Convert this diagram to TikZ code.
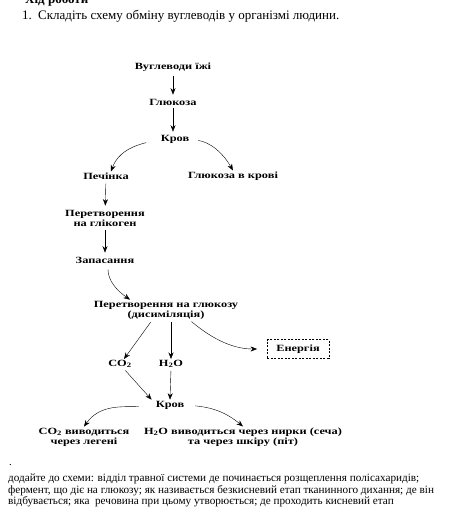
\documentclass[tikz,border=0pt]{standalone}
\usepackage{fontspec}
\setmainfont{Liberation Serif}
\newfontfamily\schemefont[FakeStretch=1.3]{Liberation Serif}
\usetikzlibrary{arrows.meta,positioning}

\begin{document}
\begin{tikzpicture}[x=1pt,y=1pt,->,>={Stealth[length=6.5pt,width=5pt]},thin,
  txt/.style={font=\fontsize{13}{15}\selectfont,inner sep=0pt},
  main node/.style={font=\schemefont\bfseries\fontsize{9.5}{10}\selectfont,align=center,inner sep=1pt},
  energy node/.style={main node,draw,dash pattern=on 2pt off 1.5pt,inner xsep=9pt,inner ysep=5pt}]
\useasboundingbox (0,0) rectangle (448,-523);
% task text
\node[txt,anchor=base west,font=\bfseries\fontsize{13}{15}\selectfont] (title) at (25,-3) {Хід роботи};
\node[txt,anchor=base west] (task) at (22,-19) {\makebox[16pt][l]{1.}Складіть схему обміну вуглеводів у організмі людини.};
% scheme
\node[main node] (food) at (173,-67) {Вуглеводи їжі};
\node[main node] (glu) at (173,-102) {Глюкоза};
\node[main node] (blood) at (175,-139) {Кров};
\node[main node] (liver) at (106,-176) {Печінка};
\node[main node] (bglu) at (233,-176) {Глюкоза в крові};
\node[main node] (glyc) at (105,-218) {Перетворення\\на глікоген};
\node[main node] (store) at (105,-260) {Запасання};
\node[main node] (dissim) at (166,-310) {Перетворення на глюкозу\\(дисиміляція)};
\node[energy node] (energy) at (298,-349) {Енергія};
\node[main node] (co2) at (120,-364) {CO\textsubscript{2}};
\node[main node] (water) at (171,-364) {H\textsubscript{2}O};
\node[main node] (blood2) at (170,-405) {Кров};
\node[main node] (co2out) at (84,-437) {CO\textsubscript{2} виводиться\\через легені};
\node[main node] (h2oout) at (243,-437) {H\textsubscript{2}O виводиться через нирки (сеча)\\та через шкіру (піт)};
\draw[shorten <=3pt,shorten >=3pt] (food) -- (glu);
\draw[shorten <=2pt,shorten >=2pt] (glu.south) -- (glu.south |- blood.north);
\draw[shorten <=14pt] (blood.west) to[out=195,in=70] ([xshift=5pt]liver.north);
\draw[shorten <=8pt] (blood.east) to[out=-10,in=120] (bglu.north);
\draw[shorten <=3pt,shorten >=3pt] (liver) -- (glyc);
\draw[shorten <=3pt,shorten >=3pt] (glyc) -- (store);
\draw[shorten <=5pt] ([xshift=3pt]store.south) to[out=270,in=145] ([xshift=-36pt]dissim.north);
\draw[shorten <=2pt] ([xshift=-14pt]dissim.south) -- ([xshift=4pt]co2.north);
\draw[shorten <=2pt] (water.north |- dissim.south) -- (water.north);
\draw[shorten <=2pt,shorten >=10pt] ([xshift=24pt]dissim.south) to[out=-40,in=180] (energy.west);
\draw[shorten <=2pt] ([xshift=4pt]co2.south) -- ([xshift=-3pt]blood2.north west);
\draw[shorten <=2pt] (water.south) -- (blood2.north);
\draw[shorten <=16pt] (blood2.west) to[out=185,in=55] (co2out.north);
\draw[shorten <=10pt] (blood2.east) to[out=-5,in=140] (h2oout.north);
% questions
\node[txt,anchor=base west,font=\fontsize{11}{11.5}\selectfont] (dot) at (9,-465) {.};
\node[txt,anchor=north west,align=left,font=\fontsize{11.2}{11.5}\selectfont] (quest) at (8,-474)
  {додайте до схеми: відділ травної системи де починається розщеплення полісахаридів;\\
   фермент, що діє на глюкозу; як називається безкисневий етап тканинного дихання; де він\\
   відбувається; яка\ \ речовина при цьому утворюється; де проходить кисневий етап};
\end{tikzpicture}
\end{document}
